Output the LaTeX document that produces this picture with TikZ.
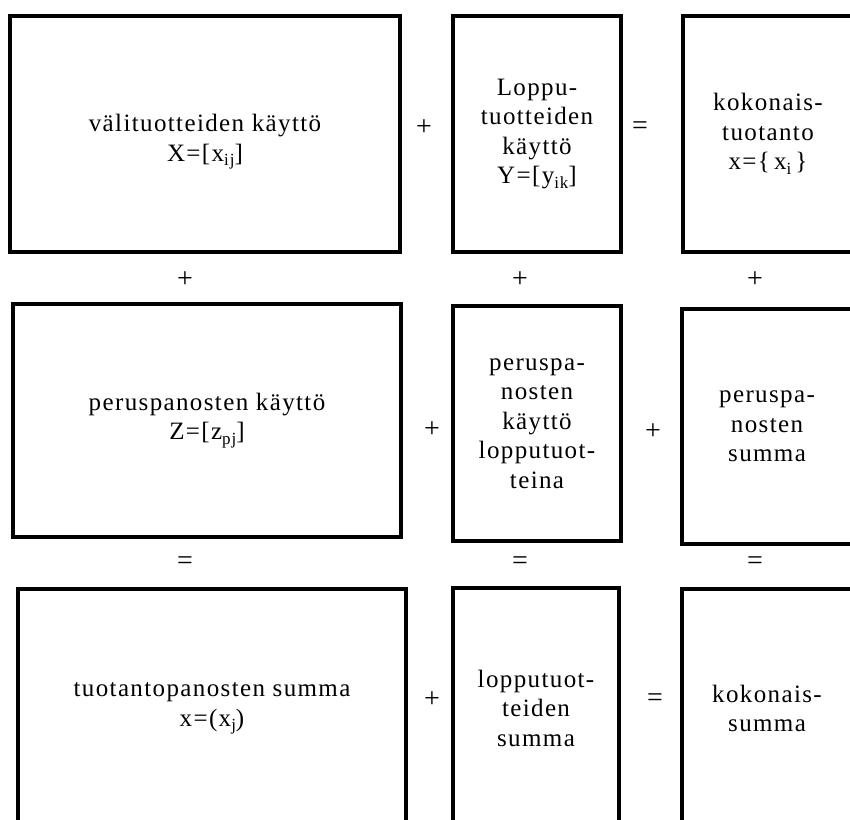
\documentclass[tikz,border=0pt]{standalone}
\usepackage{fontspec}
\setmainfont{Liberation Serif}[LetterSpace=5.5]
\newcommand{\mysub}[1]{\raisebox{-0.4ex}{\fontsize{17}{17}\selectfont #1}}
\begin{document}
\begin{tikzpicture}[x=1pt,y=-1pt,
  box/.style 2 args={draw, line width=4pt, minimum width=#1pt, minimum height=#2pt,
    inner sep=0pt, align=center, font=\fontsize{25}{29.5}\selectfont},
  txt/.style={inner sep=0pt, align=center, font=\fontsize{25}{29.5}\selectfont},
  op/.style={inner sep=0pt, font=\fontsize{28}{28}\selectfont}]
\useasboundingbox (0,0) rectangle (850,819);
\clip (0,0) rectangle (850,819);
% row 1
\node[box={390}{236}] (b11) at (205,134) {};
\node[txt] (t11) at (205,142) {välituotteiden käyttö\\X=[x\mysub{ij}]};
\node[box={168}{236}] (b12) at (537,134) {Loppu-\\tuotteiden\\käyttö\\Y=[y\mysub{ik}]};
\node[box={170}{236}] (b13) at (768,134) {kokonais-\\tuotanto\\x=\{\,x\mysub{i}\,\}};
% row 2
\node[box={388}{233}] (b21) at (207,420.5) {peruspanosten käyttö\\Z=[z\mysub{pj}]};
\node[box={168}{235}] (b22) at (537,423.5) {peruspa-\\nosten\\käyttö\\lopputuot-\\teina};
\node[box={170}{235}] (b23) at (767,426.5) {peruspa-\\nosten\\summa};
% row 3
\node[box={388}{239}] (b31) at (212,708.5) {tuotantopanosten summa\\x=(x\mysub{j})};
\node[box={166}{240}] (b32) at (536,708) {lopputuot-\\teiden\\summa};
\node[box={170}{239}] (b33) at (767,708.5) {kokonais-\\summa};
% operators
\node[op] (o1) at (424,128) {+};
\node[op] (o2) at (640,128) {=};
\node[op] (o3) at (185,280) {+};
\node[op] (o4) at (520,280) {+};
\node[op] (o5) at (755,280) {+};
\node[op] (o6) at (432,430) {+};
\node[op] (o7) at (653,432) {+};
\node[op] (o8) at (185,563) {=};
\node[op] (o9) at (520,563) {=};
\node[op] (o10) at (755,563) {=};
\node[op] (o11) at (432,700) {+};
\node[op] (o12) at (655,700) {=};
\end{tikzpicture}
\end{document}
